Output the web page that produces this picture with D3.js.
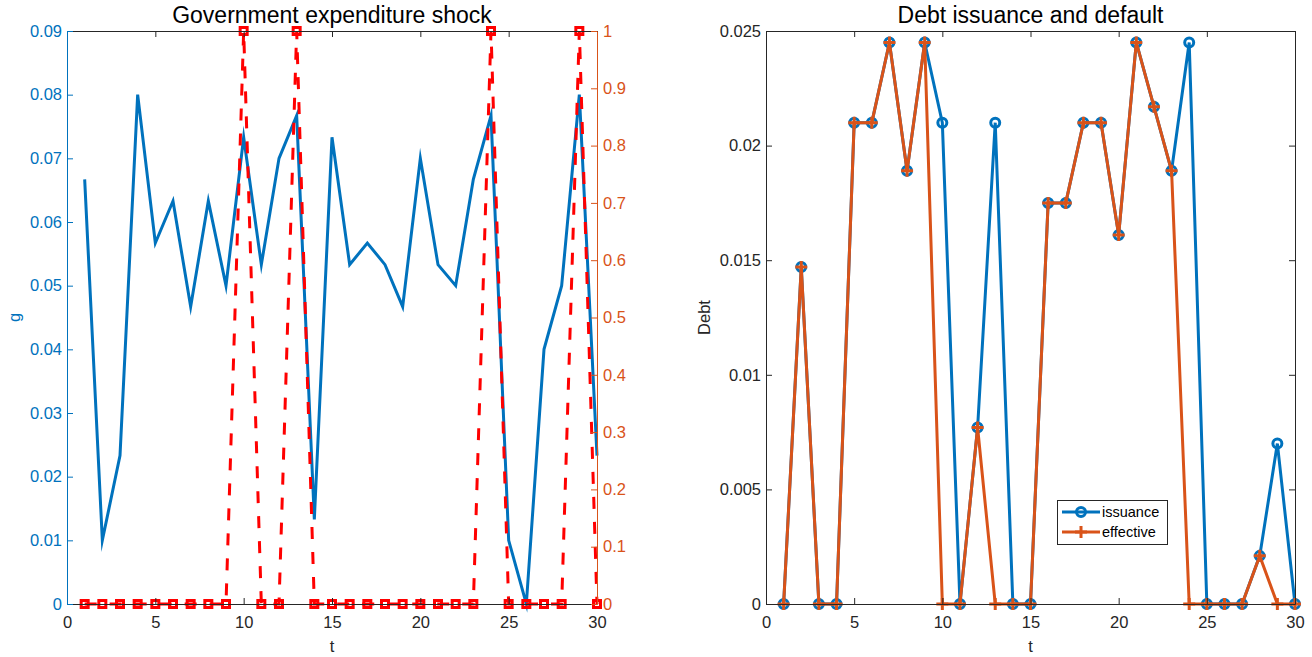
<!DOCTYPE html>
<html>
<head>
<meta charset="utf-8">
<script src="https://cdn.jsdelivr.net/npm/d3@7"></script>
<style>
  body { margin: 0; background: #fff; }
  svg { display: block; font-family: "Liberation Sans", Arial, Helvetica, sans-serif; }
</style>
</head>
<body>
<svg id="chart" width="1312" height="657"></svg>
<script>
// ---------- data ----------
const t = d3.range(1, 31);
const gShock = [0.0667, 0.0100, 0.0233, 0.0800, 0.0567, 0.0633, 0.0467, 0.0633, 0.0500, 0.0733,
                0.0533, 0.0700, 0.0767, 0.0133, 0.0733, 0.0533, 0.0567, 0.0533, 0.0467, 0.0700,
                0.0533, 0.0500, 0.0667, 0.0767, 0.0100, 0.0000, 0.0400, 0.0500, 0.0800, 0.0233];
const defaultFlag = [0, 0, 0, 0, 0, 0, 0, 0, 0, 1,
                     0, 0, 1, 0, 0, 0, 0, 0, 0, 0,
                     0, 0, 0, 1, 0, 0, 0, 0, 1, 0];
const issuance = [0, 0.0147, 0, 0, 0.0210, 0.0210, 0.0245, 0.0189, 0.0245, 0.0210,
                  0, 0.0077, 0.0210, 0, 0, 0.0175, 0.0175, 0.0210, 0.0210, 0.0161,
                  0.0245, 0.0217, 0.0189, 0.0245, 0, 0, 0, 0.0021, 0.0070, 0];
const effective = [0, 0.0147, 0, 0, 0.0210, 0.0210, 0.0245, 0.0189, 0.0245, 0,
                   0, 0.0077, 0, 0, 0, 0.0175, 0.0175, 0.0210, 0.0210, 0.0161,
                   0.0245, 0.0217, 0.0189, 0, 0, 0, 0, 0.0021, 0, 0];
const xTicks = [0, 5, 10, 15, 20, 25, 30];
const gTicks = [0, 0.01, 0.02, 0.03, 0.04, 0.05, 0.06, 0.07, 0.08, 0.09];
const flagTicks = [0, 0.1, 0.2, 0.3, 0.4, 0.5, 0.6, 0.7, 0.8, 0.9, 1];
const debtTicks = [0, 0.005, 0.01, 0.015, 0.02, 0.025];
const legendLabels = ["issuance", "effective"];

// ---------- styles ----------
const BLUE = "#0072BD", ORANGE = "#D95319", RED = "#FF0000", AX = "#262626";
const TICKFS = 16.5, TITLEFS = 23, LEGFS = 14.5;

const svg = d3.select("#chart");

function styleAxis(g, color) {
  g.select(".domain").attr("stroke", color).attr("stroke-width", 1);
  g.selectAll(".tick line").attr("stroke", color).attr("stroke-width", 1);
  g.selectAll(".tick text").attr("fill", color).style("font-size", TICKFS + "px")
    .style("font-family", '"Liberation Sans", Arial, Helvetica, sans-serif');
}
const fmt = d => String(+d.toFixed(4));

// ================= LEFT PLOT =================
const L = {x0: 67, x1: 597, y0: 31, y1: 604};
const xL = d3.scaleLinear().domain([0, 30]).range([L.x0, L.x1]);
const yG = d3.scaleLinear().domain([0, 0.09]).range([L.y1, L.y0]);
const yF = d3.scaleLinear().domain([0, 1]).range([L.y1, L.y0]);

const left = svg.append("g");
// blue g line
left.append("path").datum(t)
  .attr("fill", "none").attr("stroke", BLUE).attr("stroke-width", 3)
  .attr("stroke-linejoin", "miter").attr("stroke-miterlimit", 10)
  .attr("d", d3.line().x(d => xL(d)).y((d, i) => yG(gShock[i])));
// red dashed flag line
left.append("path").datum(t)
  .attr("fill", "none").attr("stroke", RED).attr("stroke-width", 3)
  .attr("stroke-dasharray", "12,13")
  .attr("d", d3.line().x(d => xL(d)).y((d, i) => yF(defaultFlag[i])));
left.selectAll("rect.sq").data(t).join("rect").attr("class", "sq")
  .attr("x", d => xL(d) - 3.5).attr("y", (d, i) => yF(defaultFlag[i]) - 3.5)
  .attr("width", 7).attr("height", 7)
  .attr("fill", "none").attr("stroke", RED).attr("stroke-width", 3);

// axes
const lb = left.append("g").attr("transform", `translate(0,${L.y1})`)
  .call(d3.axisBottom(xL).tickValues(xTicks).tickSize(-6).tickSizeOuter(0).tickPadding(12));
styleAxis(lb, AX);
const lt = left.append("g").attr("transform", `translate(0,${L.y0})`)
  .call(d3.axisTop(xL).tickValues(xTicks).tickSize(-6).tickSizeOuter(0).tickFormat(""));
styleAxis(lt, AX);
const ll = left.append("g").attr("transform", `translate(${L.x0},0)`)
  .call(d3.axisLeft(yG).tickValues(gTicks).tickSize(-6).tickSizeOuter(0).tickPadding(5).tickFormat(fmt));
styleAxis(ll, BLUE);
const lr = left.append("g").attr("transform", `translate(${L.x1},0)`)
  .call(d3.axisRight(yF).tickValues(flagTicks).tickSize(-6).tickSizeOuter(0).tickPadding(6).tickFormat(fmt));
styleAxis(lr, ORANGE);

left.append("text").attr("x", (L.x0 + L.x1) / 2).attr("y", 23).attr("text-anchor", "middle")
  .style("font-size", TITLEFS + "px").attr("fill", "#000").text("Government expenditure shock");
left.append("text").attr("x", (L.x0 + L.x1) / 2).attr("y", 652).attr("text-anchor", "middle")
  .style("font-size", TICKFS + "px").attr("fill", AX).text("t");
left.append("text").attr("transform", `translate(20,${(L.y0 + L.y1) / 2}) rotate(-90)`)
  .attr("text-anchor", "middle").style("font-size", TICKFS + "px").attr("fill", BLUE).text("g");

// ================= RIGHT PLOT =================
const R = {x0: 766, x1: 1295, y0: 31, y1: 604};
const xR = d3.scaleLinear().domain([0, 30]).range([R.x0, R.x1]);
const yD = d3.scaleLinear().domain([0, 0.025]).range([R.y1, R.y0]);
const right = svg.append("g");

right.append("path").datum(t)
  .attr("fill", "none").attr("stroke", BLUE).attr("stroke-width", 3)
  .attr("d", d3.line().x(d => xR(d)).y((d, i) => yD(issuance[i])));
right.selectAll("circle.ci").data(t).join("circle").attr("class", "ci")
  .attr("cx", d => xR(d)).attr("cy", (d, i) => yD(issuance[i])).attr("r", 4.5)
  .attr("fill", "none").attr("stroke", BLUE).attr("stroke-width", 3);
right.append("path").datum(t)
  .attr("fill", "none").attr("stroke", ORANGE).attr("stroke-width", 3)
  .attr("d", d3.line().x(d => xR(d)).y((d, i) => yD(effective[i])));
right.selectAll("path.pl").data(t).join("path").attr("class", "pl")
  .attr("transform", (d, i) => `translate(${xR(d)},${yD(effective[i])})`)
  .attr("d", "M-6,0H6M0,-6V6")
  .attr("fill", "none").attr("stroke", ORANGE).attr("stroke-width", 3);

const rb = right.append("g").attr("transform", `translate(0,${R.y1})`)
  .call(d3.axisBottom(xR).tickValues(xTicks).tickSize(-6).tickSizeOuter(0).tickPadding(12));
styleAxis(rb, AX);
const rt = right.append("g").attr("transform", `translate(0,${R.y0})`)
  .call(d3.axisTop(xR).tickValues(xTicks).tickSize(-6).tickSizeOuter(0).tickFormat(""));
styleAxis(rt, AX);
const rl = right.append("g").attr("transform", `translate(${R.x0},0)`)
  .call(d3.axisLeft(yD).tickValues(debtTicks).tickSize(-6).tickSizeOuter(0).tickPadding(5).tickFormat(fmt));
styleAxis(rl, AX);
const rr = right.append("g").attr("transform", `translate(${R.x1},0)`)
  .call(d3.axisRight(yD).tickValues(debtTicks).tickSize(-6).tickSizeOuter(0).tickFormat(""));
styleAxis(rr, AX);

right.append("text").attr("x", (R.x0 + R.x1) / 2).attr("y", 23).attr("text-anchor", "middle")
  .style("font-size", TITLEFS + "px").attr("fill", "#000").text("Debt issuance and default");
right.append("text").attr("x", (R.x0 + R.x1) / 2).attr("y", 652).attr("text-anchor", "middle")
  .style("font-size", TICKFS + "px").attr("fill", AX).text("t");
right.append("text").attr("transform", `translate(710,${(R.y0 + R.y1) / 2}) rotate(-90)`)
  .attr("text-anchor", "middle").style("font-size", TICKFS + "px").attr("fill", AX).text("Debt");

// legend
const lg = right.append("g");
lg.append("rect").attr("x", 1057.5).attr("y", 500.5).attr("width", 110).attr("height", 44)
  .attr("fill", "#fff").attr("stroke", AX).attr("stroke-width", 1);
const legColors = [BLUE, ORANGE];
legendLabels.forEach((lab, i) => {
  const y = 512 + i * 20;
  lg.append("line").attr("x1", 1062).attr("x2", 1100).attr("y1", y).attr("y2", y)
    .attr("stroke", legColors[i]).attr("stroke-width", 3);
  if (i === 0) {
    lg.append("circle").attr("cx", 1081).attr("cy", y).attr("r", 4.5)
      .attr("fill", "none").attr("stroke", BLUE).attr("stroke-width", 3);
  } else {
    lg.append("path").attr("transform", `translate(1081,${y})`).attr("d", "M-6,0H6M0,-6V6")
      .attr("fill", "none").attr("stroke", ORANGE).attr("stroke-width", 3);
  }
  lg.append("text").attr("x", 1102).attr("y", y).attr("dy", "0.35em")
    .style("font-size", LEGFS + "px").attr("fill", "#000").text(lab);
});
</script>
</body>
</html>
